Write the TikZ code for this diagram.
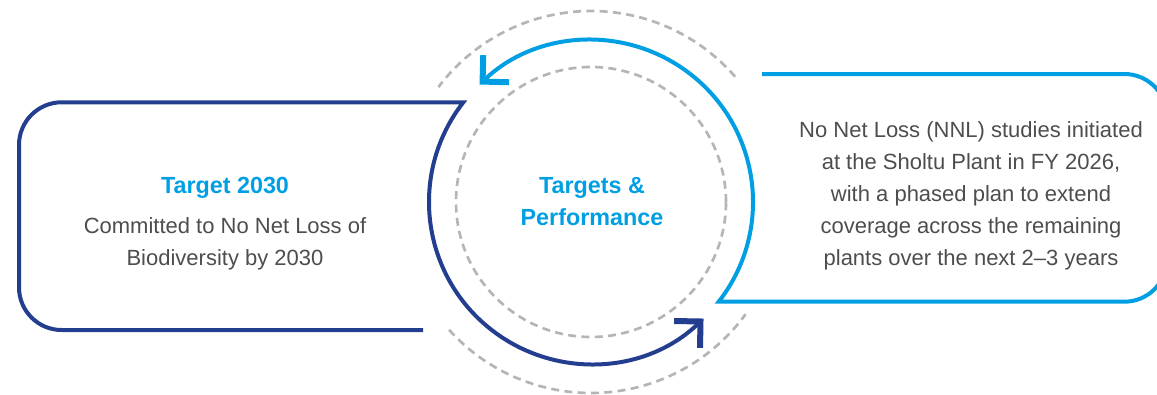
\documentclass[tikz,border=0pt]{standalone}
\usepackage{fontspec}
\setmainfont{Liberation Sans}
\usetikzlibrary{arrows.meta,calc}
\definecolor{navy}{HTML}{233D8F}
\definecolor{skyblue}{HTML}{009FE3}
\definecolor{dashgray}{HTML}{B5B5B5}
\definecolor{bodygray}{HTML}{4D4D4D}

\begin{document}
\begin{tikzpicture}[x=0.75pt,y=0.75pt,
    box/.style={line width=3pt,line join=miter},
    ring/.style={dashgray,line width=2pt,dash pattern=on 6pt off 4pt},
    head/.style={skyblue,font=\fontsize{17.5}{24}\selectfont\bfseries,align=center,anchor=base},
    body/.style={bodygray,font=\fontsize{16.5}{24}\selectfont,align=center,anchor=base},
    barb/.style={-{Straight Barb[length=14pt,width=28pt,line width=4.5pt]}}]
      \useasboundingbox (0,0) rectangle (1157,394);
      \coordinate (hub) at (591,192);
      % dashed rings
      \draw[ring] (hub) circle[radius=135];
      \draw[ring] ($(hub)+(41:191)$) arc[start angle=41,end angle=143,radius=191];
      \draw[ring] ($(hub)+(222:191)$) arc[start angle=222,end angle=324,radius=191];
      % left box and navy arc
      \draw[box,navy,barb] (423,64) [rounded corners=32] -- (19,64) -- (19,291.7) [sharp corners] -- ($(hub)+(142:162)$) arc[start angle=142,end angle=314,radius=162];
      % right box and blue arc
      \begin{scope}
        \clip (0,0) rectangle (1157,394);
        \draw[box,skyblue,barb] (762,320) [rounded corners=32] -- (1167,320) -- (1167,92.3) [sharp corners] -- ($(hub)+(-38:162)$) arc[start angle=-38,end angle=133.5,radius=162];
      \end{scope}
      % texts (base = last line)
      \node[head] (lefthead) at (225,201) {Target 2030};
      \node[body] (leftbody) at (225,129) {Committed to No Net Loss of\\Biodiversity by 2030};
      \node[head] (hubtext) at (592,169) {Targets \&\\Performance};
      \node[body] (rightbody) at (971,129) {No Net Loss (NNL) studies initiated\\at the Sholtu Plant in FY 2026,\\with a phased plan to extend\\coverage across the remaining\\plants over the next 2--3 years};
    \end{tikzpicture}
\end{document}
